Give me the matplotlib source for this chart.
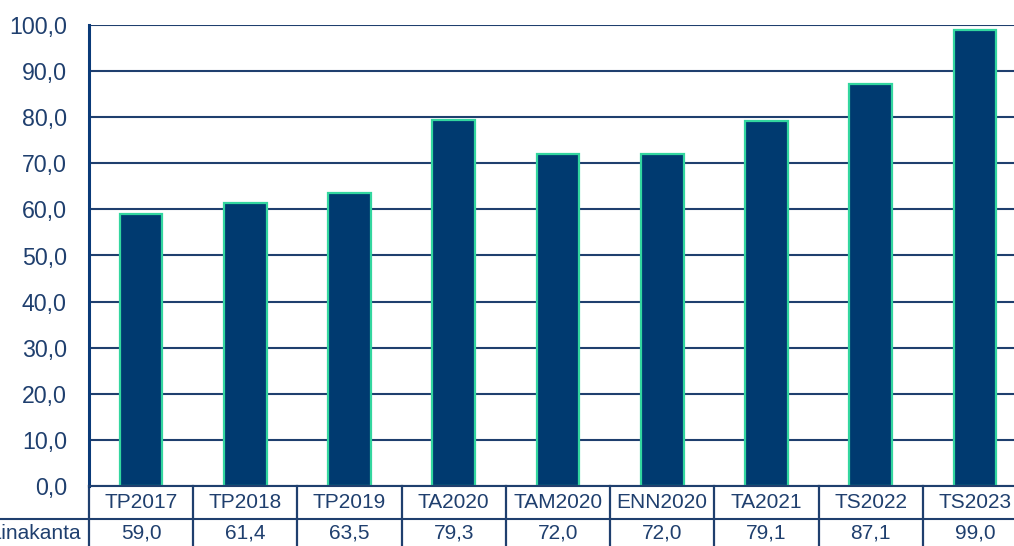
import numpy as np
import matplotlib.pyplot as plt
from matplotlib.transforms import blended_transform_factory

kategoriat = ['TP2017', 'TP2018', 'TP2019', 'TA2020', 'TAM2020', 'ENN2020', 'TA2021', 'TS2022', 'TS2023']
lainakanta = [59.0, 61.4, 63.5, 79.3, 72.0, 72.0, 79.1, 87.1, 99.0]
rivin_nimi = 'Lainakanta'

def pilkku(v):
    return f'{v:.1f}'.replace('.', ',')

plt.rcParams['font.family'] = ['Liberation Sans', 'DejaVu Sans']
teksti = '#1f3f6e'
viiva = '#1f3f6e'

W, H = 1014, 546
fig = plt.figure(figsize=(W / 100, H / 100), dpi=100)
ax = fig.add_axes([89 / W, 60 / H, 938 / W, 461 / H])

x = np.arange(len(kategoriat))
ax.bar(x, lainakanta, width=0.41, color='#003a70', edgecolor='#33d69f', linewidth=1.6, zorder=3)

ax.set_xlim(-0.5, len(kategoriat) - 0.5)
ax.set_ylim(0, 100)
ax.set_yticks(np.arange(0, 101, 10))
ax.set_yticklabels([pilkku(v) for v in np.arange(0, 101, 10)])
ax.tick_params(axis='y', length=0, pad=16, labelsize=16.7, labelcolor=teksti)
ax.set_xticks([])
ax.grid(axis='y', color=viiva, linewidth=1.5, zorder=1)
for s in ['top', 'right', 'bottom']:
    ax.spines[s].set_visible(False)
ax.spines['left'].set_color('#0a3a78')
ax.spines['left'].set_linewidth(2.2)

# taulukko kaavion alla
tr = blended_transform_factory(ax.transData, ax.transAxes)
rivi = 32.5 / 461
ax.plot([-0.5, len(kategoriat) - 0.5], [0, 0], transform=tr, color=viiva, lw=1.5, clip_on=False, zorder=4)
ax.plot([-0.5 - 89 / 104.2, len(kategoriat) - 0.5], [-rivi, -rivi], transform=tr, color=viiva, lw=1.5, clip_on=False)
for k in range(len(kategoriat) + 1):
    ax.plot([k - 0.5, k - 0.5], [0, -2.2 * rivi], transform=tr, color=viiva, lw=1.6, clip_on=False)
for k, (c, v) in enumerate(zip(kategoriat, lainakanta)):
    ax.text(k, -0.5 * rivi, c, transform=tr, ha='center', va='center', fontsize=15, color=teksti)
    ax.text(k, -1.45 * rivi, pilkku(v), transform=tr, ha='center', va='center', fontsize=15, color=teksti)
fig.text(81 / W, (60 - 1.45 * 32.5) / H, rivin_nimi, ha='right', va='center', fontsize=15, color=teksti)

fig.savefig('out.png', dpi=100)
